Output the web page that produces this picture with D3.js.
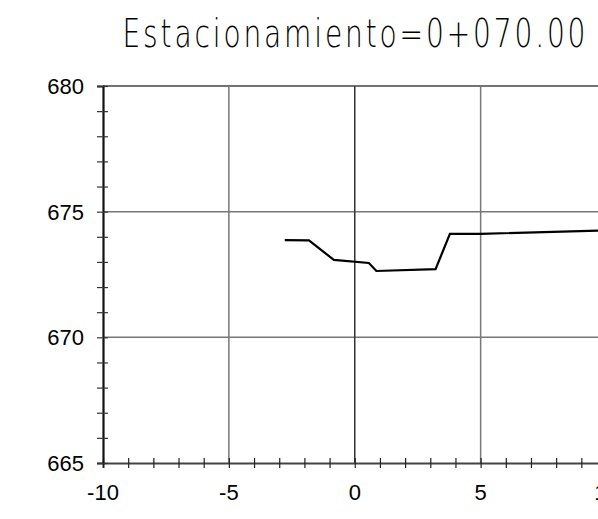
<!DOCTYPE html>
<html>
<head>
<meta charset="utf-8">
<script src="https://cdn.jsdelivr.net/npm/d3@7"></script>
<style>
  html, body { margin: 0; padding: 0; background: #fff; overflow: hidden; }
  svg { display: block; }
</style>
</head>
<body>
<div id="chart"></div>
<script>
// Daten: Geländeprofil (Abstand, Höhe)
const title = "Estacionamiento=0+070.00";
const offsets = [-2.78, -1.82, -0.83, 0.56, 0.86, 3.21, 3.78, 5.0, 10.5];
const elevations = [673.87, 673.86, 673.08, 672.96, 672.64, 672.71, 674.12, 674.12, 674.27];
const xTicks = [-10, -5, 0, 5, 10];
const yTicks = [665, 670, 675, 680];

const W = 598, H = 519;
const x = d3.scaleLinear().domain([-10, 10]).range([103, 606.5]);
const y = d3.scaleLinear().domain([665, 680]).range([463, 86]);

const svg = d3.select('#chart').append('svg')
  .attr('width', W).attr('height', H);

// Titel (schmale CAD-Schrift nachgebildet: gestaucht + gesperrt)
const sx = 0.72;
svg.append('g')
  .attr('transform', `translate(354,47) scale(${sx},1)`)
  .append('text')
    .attr('x', 0).attr('y', 0)
    .attr('text-anchor', 'middle')
    .attr('font-family', 'DejaVu Sans')
    .attr('font-weight', 200)
    .attr('font-size', 39)
    .attr('textLength', 463 / sx)
    .attr('lengthAdjust', 'spacing')
    .attr('fill', '#000')
    .text(title);

// Raster
svg.append('g')
  .selectAll('line')
  .data(yTicks.slice(1))
  .join('line')
    .attr('x1', x(-10)).attr('x2', x(10))
    .attr('y1', d => y(d)).attr('y2', d => y(d))
    .attr('stroke', d => d === 680 ? '#444' : '#777')
    .attr('stroke-width', 1.5);

svg.append('g')
  .selectAll('line')
  .data(xTicks.slice(1))
  .join('line')
    .attr('x1', d => x(d)).attr('x2', d => x(d))
    .attr('y1', y(680)).attr('y2', y(665))
    .attr('stroke', d => d === 0 ? '#333' : '#777')
    .attr('stroke-width', 1.5);

// Achsen mit kleinen Strichen (über die Linie)
const xAxis = svg.append('g')
  .attr('transform', `translate(0,${y(665)})`)
  .call(d3.axisBottom(x).tickValues(d3.range(-10, 11)).tickSize(5).tickFormat(''));
xAxis.select('.domain').attr('stroke', '#444').attr('stroke-width', 2);
xAxis.selectAll('.tick line').attr('y1', -5).attr('stroke', '#222').attr('stroke-width', 1.2);

const yAxis = svg.append('g')
  .attr('transform', `translate(${x(-10)},0)`)
  .call(d3.axisLeft(y).tickValues(d3.range(665, 681)).tickSize(6).tickFormat(''));
yAxis.select('.domain').attr('stroke', '#111').attr('stroke-width', 2.2);
yAxis.selectAll('.tick line').attr('x1', -6).attr('x2', 5).attr('stroke', '#333').attr('stroke-width', 1.2);

// Beschriftungen
svg.append('g')
  .selectAll('text')
  .data(yTicks)
  .join('text')
    .attr('x', 84).attr('y', d => y(d) + 8)
    .attr('text-anchor', 'end')
    .attr('font-family', 'Liberation Sans, Arial, sans-serif')
    .attr('font-size', 22)
    .text(d => d);

svg.append('g')
  .selectAll('text')
  .data(xTicks)
  .join('text')
    .attr('x', d => x(d)).attr('y', 500)
    .attr('text-anchor', 'middle')
    .attr('font-family', 'Liberation Sans, Arial, sans-serif')
    .attr('font-size', 22)
    .text(d => d);

// Profil-Linie
const line = d3.line()
  .x(d => x(d[0]))
  .y(d => y(d[1]));

svg.append('path')
  .datum(offsets.map((o, i) => [o, elevations[i]]))
  .attr('d', line)
  .attr('fill', 'none')
  .attr('stroke', '#000')
  .attr('stroke-width', 2.2)
  .attr('stroke-linejoin', 'miter');
</script>
</body>
</html>
